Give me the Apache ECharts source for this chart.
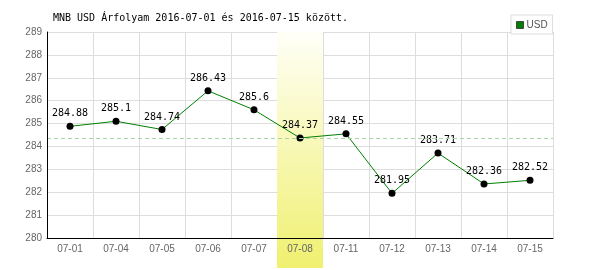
<!DOCTYPE html>
<html><head><meta charset="utf-8">
<script src="https://cdn.jsdelivr.net/npm/echarts@6/dist/echarts.min.js"></script>
<style>html,body{margin:0;padding:0;background:#fff}#c{width:600px;height:270px}</style>
</head><body><div id="c"></div>
<script>
const titleText = 'MNB USD Árfolyam 2016-07-01 és 2016-07-15 között.';
const seriesName = 'USD';
const categories = ['07-01','07-04','07-05','07-06','07-07','07-08','07-11','07-12','07-13','07-14','07-15'];
const values = [284.88, 285.1, 284.74, 286.43, 285.6, 284.37, 284.55, 281.95, 283.71, 282.36, 282.52];
const highlightDay = '07-08';
const referenceValue = 284.37;
const yMin = 280, yMax = 289, yStep = 1;

const chart = echarts.init(document.getElementById('c'), null, {renderer:'canvas'});
const mono = 'DejaVu Sans Mono';
const sans = 'Liberation Sans';
chart.setOption({
  animation: false,
  backgroundColor: '#fff',
  title: {
    text: titleText, left: 53, top: 13, padding: 0,
    textStyle: {fontFamily: mono, fontSize: 10, fontWeight: 'normal', color: '#000'}
  },
  legend: {
    left: 511, top: 15, padding: [5, 5, 4, 5],
    borderColor: '#ddd', borderWidth: 1, backgroundColor: '#fff',
    itemWidth: 7, itemHeight: 7, itemGap: 4,
    textStyle: {fontFamily: sans, fontSize: 10, color: '#555', padding: [0,0,0,-2]},
    data: [{name: seriesName, icon: 'rect', itemStyle: {color: '#008000', borderColor: '#444', borderWidth: 1}}]
  },
  grid: [
    {left: 47, right: 47, top: 32, bottom: 32},
    {left: 47, right: 47, top: 32, bottom: 2}
  ],
  xAxis: [
    {gridIndex: 0, type: 'category', data: categories, z: 5,
     axisLine: {show: true, lineStyle: {color: '#000', width: 1}},
     axisTick: {show: false},
     axisLabel: {color: '#666', fontFamily: sans, fontSize: 10, margin: 6},
     splitLine: {show: false}},
    {gridIndex: 0, type: 'category', data: categories, z: 0,
     axisLine: {show: false}, axisTick: {show: false}, axisLabel: {show: false},
     splitLine: {show: true, lineStyle: {color: '#ddd', width: 1}}},
    {gridIndex: 1, type: 'category', data: categories, show: false}
  ],
  yAxis: [
    {gridIndex: 0, type: 'value', min: yMin, max: yMax, interval: yStep, z: 5,
     axisLine: {show: true, lineStyle: {color: '#000', width: 1}},
     axisTick: {show: false},
     axisLabel: {color: '#666', fontFamily: sans, fontSize: 10, margin: 5},
     splitLine: {show: false}},
    {gridIndex: 0, type: 'value', min: yMin, max: yMax, interval: yStep, z: 0,
     axisLine: {show: false}, axisTick: {show: false}, axisLabel: {show: false},
     splitLine: {show: true, lineStyle: {color: '#ddd', width: 1}}},
    {gridIndex: 1, type: 'value', min: 0, max: 1, show: false}
  ],
  series: [
    {
      type: 'bar', xAxisIndex: 2, yAxisIndex: 2, z: 1, silent: true,
      barWidth: '100%',
      data: categories.map(c => c === highlightDay ? 1 : '-'),
      itemStyle: {color: new echarts.graphic.LinearGradient(0, 0, 0, 1, [
        {offset: 0, color: '#fffff8'},
        {offset: 1, color: '#f0f070'}
      ])}
    },
    {
      name: seriesName, type: 'line', z: 3,
      data: values,
      symbol: 'circle', symbolSize: 7,
      itemStyle: {color: '#000'},
      lineStyle: {color: '#008000', width: 1},
      label: {show: true, position: 'top', distance: 4, color: '#000', fontFamily: mono, fontSize: 10},
      markLine: {
        silent: true, symbol: 'none',
        label: {show: false},
        lineStyle: {color: '#a8d4a8', type: [4, 3], width: 1},
        data: [{yAxis: referenceValue}]
      }
    }
  ]
});
</script></body></html>
